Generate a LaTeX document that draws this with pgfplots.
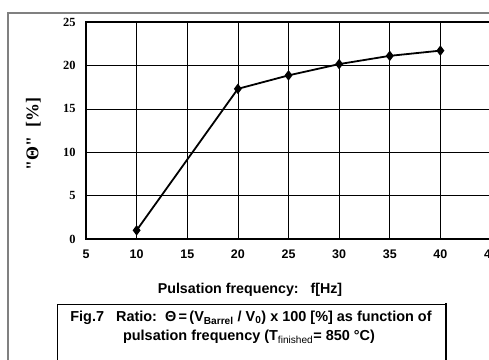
\documentclass[border=0pt]{standalone}
\usepackage{fontspec}
\setmainfont{Liberation Sans}
\newfontfamily\serif{Liberation Serif}
\usepackage{pgfplots}
\pgfplotsset{compat=1.18}
\begin{document}
\begin{tikzpicture}[x=1bp,y=1bp]
\useasboundingbox (0,0) rectangle (489,359);
\clip (0,0) rectangle (489,359);
\fill[white] (0,0) rectangle (489,359);
\draw[black!50, line width=1.3bp] (8,-20) -- (8,346) -- (520,346);
\begin{axis}[at={(86bp,120bp)}, anchor=south west, scale only axis,
  width=405bp, height=217bp,
  xmin=5, xmax=45, ymin=0, ymax=25,
  xtick={5,10,...,45}, ytick={0,5,...,25},
  grid=major, major grid style={black, line width=0.6bp},
  axis line style={line width=1.5bp},
  major tick length=0pt,
  /pgf/number format/assume math mode=true,
  xticklabel style={font=\fontsize{12.5}{14}\selectfont\bfseries, yshift=-7bp},
  yticklabel style={font=\serif\fontsize{12.5}{14}\selectfont\bfseries, xshift=-7bp},
  xlabel={Pulsation frequency:\ \ \ f[Hz]},
  xlabel style={font=\fontsize{14.3}{15}\selectfont\bfseries, at={(axis description cs:0.405,-0.235)}, anchor=center},
  ylabel={"Θ"\ \ [\%]},
  ylabel style={font=\serif\fontsize{18}{20}\selectfont\bfseries, at={(axis description cs:-0.130,0.484)}, anchor=center},
  clip=false]
\addplot[black, line width=1.8bp, mark=diamond*, mark size=3.8bp, mark options={solid}] coordinates {
(10,1.0) (20,17.3) (25,18.85) (30,20.15) (35,21.1) (40,21.7)};
\end{axis}
\draw[black, line width=0.9bp] (57,-20) -- (57,55) -- (446,55);
\draw[black, line width=2bp] (446,56) -- (446,-20);
\node[font=\fontsize{14.5}{16}\selectfont\bfseries] at (251,41) {Fig.7\hspace{12bp}Ratio:\hspace{8bp}Θ\,=\,(V\textsubscript{Barrel} / V\textsubscript{0}) x 100 [\%] as function of};
\node[font=\fontsize{14.5}{16}\selectfont\bfseries] at (249,22) {pulsation frequency (T\textsubscript{\mdseries finished}= 850 °C)};
\end{tikzpicture}
\end{document}
